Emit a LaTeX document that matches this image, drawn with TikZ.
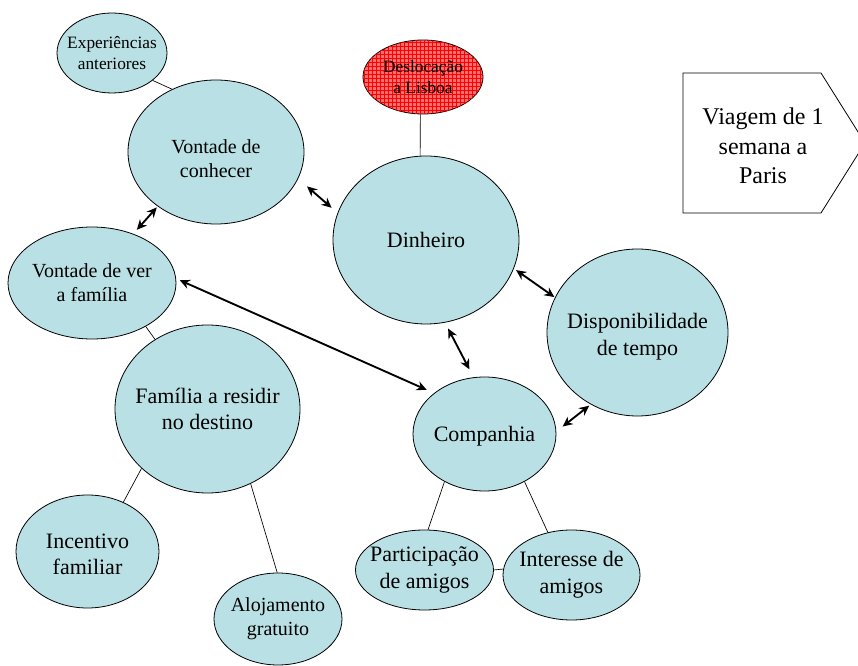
\documentclass[tikz,border=0pt]{standalone}
\usepackage{fontspec}
\setmainfont{Liberation Serif}
\newfontfamily\tnr{Liberation Serif}
\usetikzlibrary{shapes.geometric,arrows.meta,patterns}
\definecolor{bubblecol}{RGB}{185,224,228}
\definecolor{lisboared}{RGB}{245,115,115}

\begin{document}
\begin{tikzpicture}
[x=0.75pt,y=-0.75pt,
 bubble/.style={ellipse,draw,fill=bubblecol,inner sep=0pt,line width=0.6pt},
 every label/.style={align=center,inner sep=0pt},
 big/.style={font=\tnr\fontsize{16.5}{20}\selectfont},
 mid/.style={font=\tnr\fontsize{15}{18}\selectfont},
 small/.style={font=\tnr\fontsize{13}{16}\selectfont},
 link/.style={{Stealth[length=7.5pt,width=7pt]}-{Stealth[length=7.5pt,width=7pt]},line width=1.4pt}]
\useasboundingbox (0,0) rectangle (858,666);
\node[bubble,minimum width=82.5pt,minimum height=60pt,label={[small]center:Experiências\\anteriores}] (exp) at (112,53) {};
\node[bubble,minimum width=132pt,minimum height=108pt,label={[mid,yshift=-5pt]center:Vontade de\\conhecer}] (con) at (216,152) {};
\node[bubble,fill=lisboared,postaction={pattern=grid,pattern color=red},minimum width=90pt,minimum height=55.5pt,label={[small]center:Deslocação\\a Lisboa}] (desl) at (423,77) {};
\node[bubble,minimum width=139.5pt,minimum height=126pt,label={[big]center:Dinheiro}] (din) at (426,240) {};
\node[bubble,minimum width=126pt,minimum height=84pt,label={[mid]center:Vontade de ver\\a família}] (ver) at (92,283) {};
\node[bubble,minimum width=135.75pt,minimum height=125.25pt,label={[big,yshift=-3pt]center:Disponibilidade\\de tempo}] (disp) at (637.5,332.5) {};
\node[bubble,minimum width=138.75pt,minimum height=126pt,label={[big]center:Família a residir\\no destino}] (fam) at (207.5,409) {};
\node[bubble,minimum width=107.25pt,minimum height=85.5pt,label={[big,yshift=-2pt]center:Companhia}] (comp) at (484.5,434) {};
\node[bubble,minimum width=107.25pt,minimum height=84.75pt,label={[big,yshift=-2pt]center:Incentivo\\familiar}] (inc) at (87.5,551.5) {};
\node[bubble,minimum width=96pt,minimum height=69pt,label={[mid]center:Alojamento\\gratuito}] (aloj) at (278,619) {};
\node[bubble,minimum width=103.5pt,minimum height=60pt,label={[big]center:Participação\\de amigos}] (part) at (424.5,570) {};
\node[bubble,minimum width=102.75pt,minimum height=67.5pt,label={[big]center:Interesse de\\amigos}] (int) at (571.5,575) {};
% objective
\draw[line width=0.6pt] (683,73) -- (821,73) -- (865,143) -- (821,213) -- (683,213) -- cycle;
\node[align=center,font=\tnr\fontsize{18}{22}\selectfont] (trip) at (763,146) {Viagem de 1\\semana a\\Paris};
% plain links
\foreach \from/\to in {exp.-34/con.125,desl.-94/din.94,ver.-39/fam.127,fam.222/inc.54,fam.-60/aloj.91,comp.230/part.85,comp.-50/int.119,part.0/int.175}
\draw[line width=0.5pt] (\from) -- (\to);
% influences
\foreach \from/\to/\a/\b in {con.-18/din.163/8.8/5.9,con.223/ver.50/1/4,ver.3/comp.141/3/6,din.-18/disp.157/2/0.5,din.-77/comp.101/5/6.7,comp.2/disp.237/6/1.5}
\draw[link,shorten <=\a pt,shorten >=\b pt] (\from) -- (\to);
\end{tikzpicture}
\end{document}
